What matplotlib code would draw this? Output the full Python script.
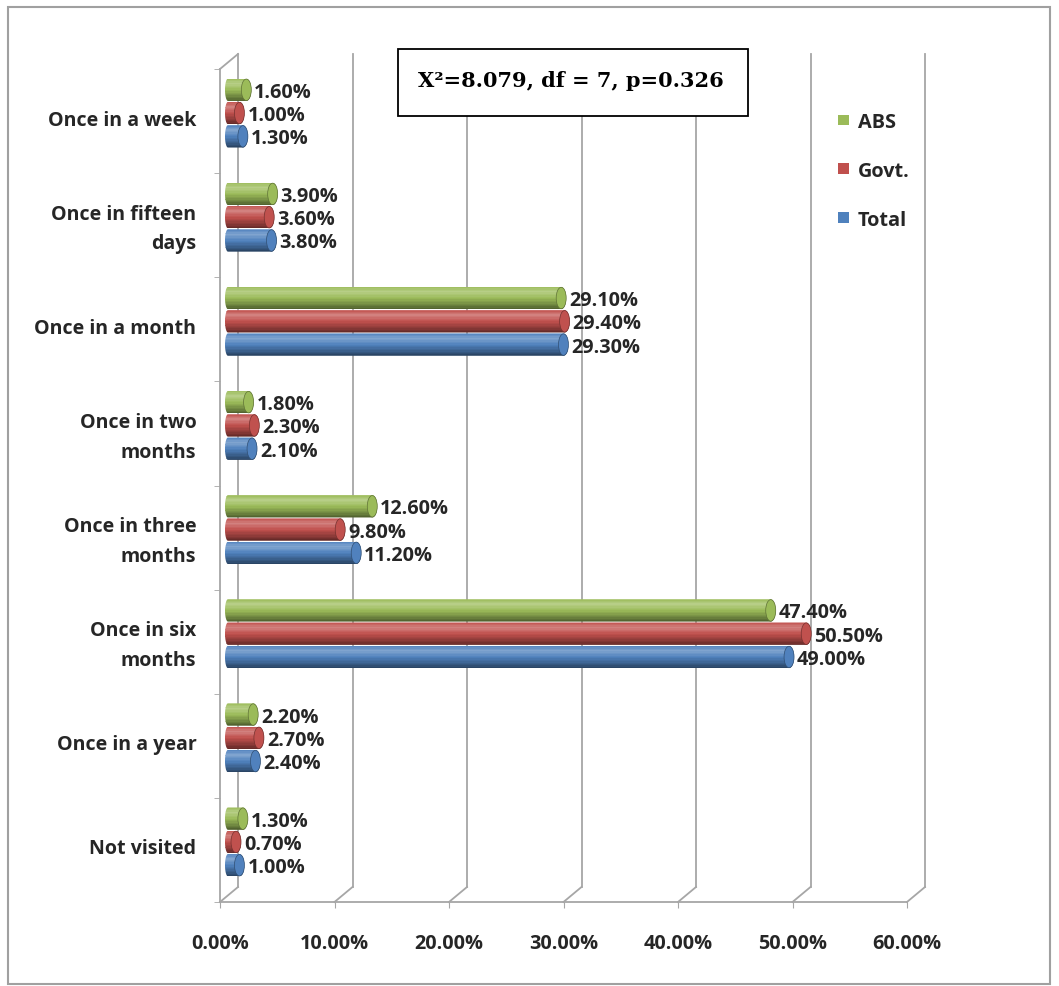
import numpy as np
import matplotlib
matplotlib.use('Agg')
import matplotlib.pyplot as plt
from matplotlib.patches import Polygon, Ellipse, Rectangle, Patch
from matplotlib.transforms import ScaledTranslation
from matplotlib.colors import to_rgb

categories = ['Once in a week', 'Once in fifteen\ndays', 'Once in a month',
              'Once in two\nmonths', 'Once in three\nmonths', 'Once in six\nmonths',
              'Once in a year', 'Not visited']
abs_vals = [1.6, 3.9, 29.1, 1.8, 12.6, 47.4, 2.2, 1.3]
govt_vals = [1.0, 3.6, 29.4, 2.3, 9.8, 50.5, 2.7, 0.7]
total_vals = [1.3, 3.8, 29.3, 2.1, 11.2, 49.0, 2.4, 1.0]
series_names = ['ABS', 'Govt.', 'Total']
xticks = [0, 10, 20, 30, 40, 50, 60]
stat_text = 'X\u00b2=8.079, df = 7, p=0.326'

W, H = 1059, 987
FONT = 'Open Sans'
FS = 14.3
TXT = '#262626'
GRID = '#a6a6a6'
base_cols = ['#9BBB59', '#C0504D', '#4F81BD']


def mix(c1, c2, t):
    a, b = np.array(to_rgb(c1)), np.array(to_rgb(c2))
    return tuple(a + (b - a) * t)


def shade(c, t):
    # t: 0 = bottom of cylinder, 1 = top
    prof = np.interp(t, [0, 0.2, 0.55, 0.78, 1.0], [-0.5, -0.28, 0.05, 0.28, 0.02])
    if prof < 0:
        return mix(c, '#000000', -prof)
    return mix(c, '#ffffff', prof)


def cylinder(ax, y, val, h, col, tr, a):
    th = np.linspace(-np.pi / 2, np.pi / 2, 40)
    right = np.column_stack([val + a * np.cos(th), y + (h / 2) * np.sin(th)])
    left = np.column_stack([-a * 0.6 * np.cos(th[::-1]), y + (h / 2) * np.sin(th[::-1])])
    clip = Polygon(np.vstack([right, left]), closed=True, transform=tr,
                   facecolor='none', edgecolor='none')
    ax.add_patch(clip)
    n = 16
    sh = h / n
    for k in range(n):
        yk = y + h / 2 - sh * (k + 0.5)   # k=0 -> visual bottom (inverted axis)
        t = (k + 0.5) / n
        b = ax.barh(yk, val + 2 * a, left=-a, height=sh * 1.05, color=shade(col, t),
                    transform=tr, zorder=3, linewidth=0)
        b[0].set_clip_path(clip)
    cap = Ellipse((val, y), 2 * a, h * 0.96, transform=tr, facecolor=shade(col, 0.5),
                  edgecolor=shade(col, 0.1), linewidth=0.5, zorder=4)
    ax.add_patch(cap)


fig = plt.figure(figsize=(W / 100, H / 100), dpi=100)
x0, x1, ytop, ybot = 220, 907, 70, 903
ax = fig.add_axes([x0 / W, 1 - ybot / H, (x1 - x0) / W, (ybot - ytop) / H])
ax.set_xlim(0, 60)
ax.set_ylim(7.5, -0.5)
ax.patch.set_alpha(0)

pxx = (x1 - x0) / 60.0
pxy = (ybot - ytop) / 8.0
back_dx, back_dy = 18, 15
back = ax.transData + ScaledTranslation(back_dx / 100, back_dy / 100, fig.dpi_scale_trans)
mid = ax.transData + ScaledTranslation(8 / 100, 8 / 100, fig.dpi_scale_trans)

# back wall gridlines and floor diagonals
for v in xticks:
    ax.plot([v, v], [7.5, -0.5], transform=back, color=GRID, lw=1.3, clip_on=False, zorder=1)
    ax.plot([v, v + back_dx / pxx], [7.5, 7.5 - back_dy / pxy], color=GRID, lw=1.3,
            clip_on=False, zorder=1)
# left wall top diagonal
ax.plot([0, back_dx / pxx], [-0.5, -0.5 - back_dy / pxy], color=GRID, lw=1.3,
        clip_on=False, zorder=1)

for s in ['top', 'right']:
    ax.spines[s].set_visible(False)
for s in ['left', 'bottom']:
    ax.spines[s].set_color(GRID)
    ax.spines[s].set_linewidth(1.3)

# bars
h = 0.215
a = 5.0 / pxx
y = np.arange(len(categories))
for j, vals in enumerate([abs_vals, govt_vals, total_vals]):
    off = (j - 1) * h * 1.04
    for i, v in enumerate(vals):
        cylinder(ax, y[i] + off, v, h, base_cols[j], mid, a)
        ax.annotate('%.2f%%' % v, (v, y[i] + off), xycoords=mid,
                    xytext=(8, -2), textcoords='offset pixels', ha='left', va='center',
                    fontsize=FS, fontweight='bold', family=FONT, color=TXT, zorder=5)

# axes ticks
ax.set_xticks(xticks)
ax.set_xticklabels(['%.2f%%' % v for v in xticks], fontsize=FS, fontweight='bold',
                   family=FONT, color=TXT)
ax.tick_params(axis='x', length=4, color=GRID, pad=18)
ax.set_yticks(y)
ax.set_yticklabels(categories, fontsize=FS - 0.2, fontweight='bold', family=FONT,
                   color=TXT, linespacing=1.65)
ax.tick_params(axis='y', which='major', length=0, pad=17)
ax.set_yticks(np.arange(-0.5, 8, 1), minor=True)
ax.tick_params(axis='y', which='minor', length=4, color=GRID)
lift = ScaledTranslation(0, 4 / 100, fig.dpi_scale_trans)
for lbl in ax.get_yticklabels():
    lbl.set_transform(lbl.get_transform() + lift)

# legend
handles = [Patch(facecolor=c, edgecolor='none') for c in base_cols]
fig.legend(handles, series_names, loc='upper left', bbox_to_anchor=(828 / W, 1 - 103 / H),
           frameon=False, prop={'family': FONT, 'weight': 'bold', 'size': FS},
           handlelength=0.55, handleheight=0.45, handletextpad=0.45, labelspacing=1.45,
           borderpad=0, labelcolor=TXT)

# statistic box
fig.patches.append(Rectangle((398 / W, 1 - 117 / H), 350 / W, 67 / H, transform=fig.transFigure,
                             facecolor='white', edgecolor='black', linewidth=1.3, zorder=6))
fig.text(418 / W, 1 - 81 / H, stat_text, family='DejaVu Serif', fontweight='bold',
         fontsize=15, color='black', ha='left', va='center', zorder=7)

# outer border
fig.patches.append(Rectangle((8 / W, 1 - 985 / H), 1042 / W, 977 / H, transform=fig.transFigure,
                             facecolor='none', edgecolor='#a0a0a0', linewidth=1.5))

fig.savefig('out.png', dpi=100)
